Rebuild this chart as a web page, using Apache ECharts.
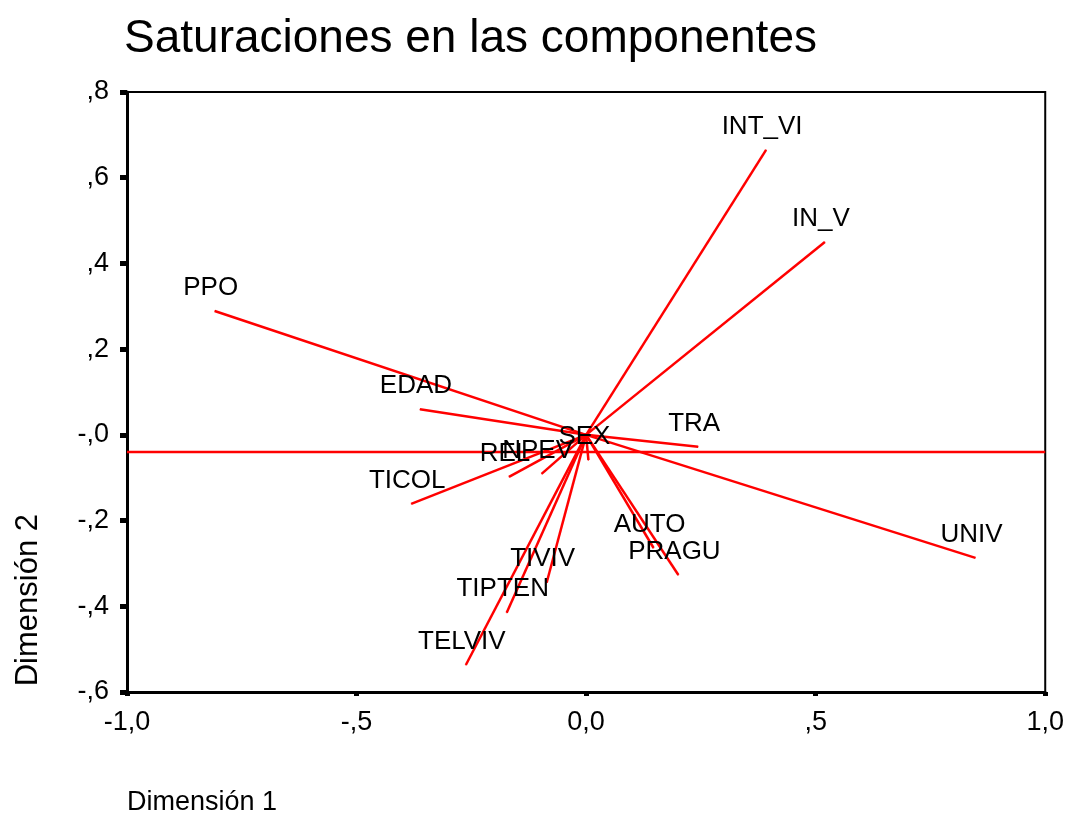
<!DOCTYPE html>
<html>
<head>
<meta charset="utf-8">
<title>Saturaciones en las componentes</title>
<script src="https://cdn.jsdelivr.net/npm/echarts@6/dist/echarts.min.js"></script>
<style>
    html, body { margin: 0; padding: 0; background: #fff; }
    #chart { width: 1067px; height: 814px; }
</style>
</head>
<body>
<div id="chart"></div>
<script>
// variables and their loadings on the two dimensions
var varNames = ['INT_VI', 'IN_V', 'PPO', 'EDAD', 'TRA', 'UNIV', 'TICOL', 'AUTO', 'PRAGU', 'TIVIV', 'TIPTEN', 'TELVIV', 'REL', 'NPEV', 'SEX'];
var dim1 = [0.392, 0.520, -0.809, -0.362, 0.244, 0.848, -0.381, 0.147, 0.201, -0.086, -0.173, -0.262, -0.168, -0.097, 0.005];
var dim2 = [0.665, 0.450, 0.289, 0.060, -0.028, -0.287, -0.161, -0.264, -0.327, -0.345, -0.415, -0.537, -0.098, -0.091, -0.059];

// horizontal reference line
var refLineY = -0.04;

// tick labels (SPSS style)
var xTickLabels = ['-1,0', '-,5', '0,0', ',5', '1,0'];
var yTickLabels = ['-,6', '-,4', '-,2', '-,0', ',2', ',4', ',6', ',8'];

var FONT = '"Liberation Sans", Arial, sans-serif';

var series = [];

series.push({
    type: 'line',
    silent: true,
    symbol: 'none',
    lineStyle: { color: '#ff0000', width: 2.5 },
    data: [[-1, refLineY], [1, refLineY]],
    z: 2
});

varNames.forEach(function (n, i) {
    series.push({
        name: n,
        type: 'line',
        silent: true,
        symbol: 'none',
        lineStyle: { color: '#ff0000', width: 2.5 },
        data: [[0, 0], [dim1[i], dim2[i]]],
        z: 3
    });
});

series.push({
    type: 'scatter',
    silent: true,
    symbolSize: 1,
    itemStyle: { color: '#ff0000' },
    label: {
        show: true,
        position: 'top',
        distance: 10,
        offset: [-4, 0],
        formatter: '{b}',
        color: '#000',
        opacity: 1,
        textBorderWidth: 0,
        fontFamily: FONT,
        fontSize: 26
    },
    data: varNames.map(function (n, i) {
        return { name: n, value: [dim1[i], dim2[i]] };
    }),
    z: 5
});

var chart = echarts.init(document.getElementById('chart'));
chart.setOption({
    animation: false,
    backgroundColor: '#fff',
    title: {
        text: 'Saturaciones en las componentes',
        left: 124,
        top: 16,
        padding: 0,
        textStyle: { fontFamily: FONT, fontSize: 46, fontWeight: 'normal', color: '#000' }
    },
    grid: {
        left: 127,
        right: 18,
        top: 92,
        bottom: 122,
        show: true,
        borderColor: '#000',
        borderWidth: 2,
        backgroundColor: '#fff'
    },
    xAxis: {
        type: 'value',
        min: -1,
        max: 1,
        interval: 0.5,
        splitLine: { show: false },
        axisLine: { onZero: false, lineStyle: { color: '#000', width: 3 } },
        axisTick: { length: 4, lineStyle: { color: '#000', width: 5 } },
        axisLabel: {
            margin: 17,
            color: '#000',
            fontFamily: FONT,
            fontSize: 27,
            formatter: function (v) {
                return xTickLabels[Math.round((v + 1) / 0.5)];
            }
        }
    },
    yAxis: {
        type: 'value',
        min: -0.6,
        max: 0.8,
        interval: 0.2,
        splitLine: { show: false },
        axisLine: { onZero: false, lineStyle: { color: '#000', width: 3 } },
        axisTick: { length: 7, lineStyle: { color: '#000', width: 5 } },
        axisLabel: {
            margin: 18,
            color: '#000',
            fontFamily: FONT,
            fontSize: 27,
            formatter: function (v) {
                return yTickLabels[Math.round((v + 0.6) / 0.2)];
            }
        }
    },
    graphic: [
        {
            type: 'text',
            left: 127,
            top: 789,
            style: { text: 'Dimensión 1', font: '27px ' + FONT, fill: '#000' }
        },
        {
            type: 'text',
            left: 13,
            top: 514,
            rotation: Math.PI / 2,
            style: { text: 'Dimensión 2', font: '31px ' + FONT, fill: '#000' }
        }
    ],
    series: series
});
</script>
</body>
</html>
